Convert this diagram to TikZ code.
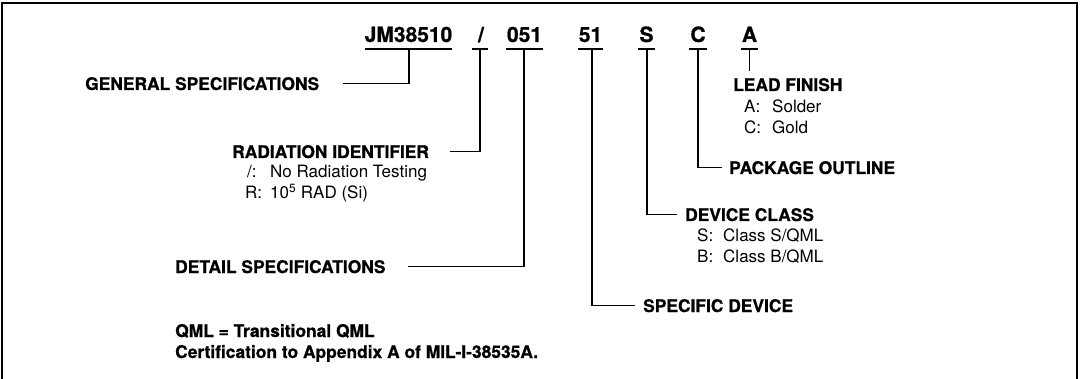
\documentclass[tikz,border=0pt]{standalone}
\usepackage{fontspec}
\setmainfont[BoldFeatures={FakeBold=0.8}]{TeX Gyre Heros}
\begin{document}
\begin{tikzpicture}[x=1pt,y=-1pt,
  hdr/.style={font=\fontsize{21}{21}\selectfont\bfseries, inner sep=0pt, anchor=base},
  lbl/.style={font=\fontsize{17.4}{17.4}\selectfont\bfseries, inner sep=0pt, anchor=base west},
  sub/.style={font=\fontsize{17}{17}\selectfont, inner sep=0pt, anchor=base west},
  wire/.style={line width=1.2pt},
  uline/.style={line width=1.3pt},
  frame/.style={line width=1.6pt}]
\useasboundingbox (0,0) rectangle (1081,379);
% frame (open at the bottom)
\draw[frame] (2,379) -- (2,3) -- (1077,3) -- (1077,379);

% part number fields
\node[hdr] (jm) at (408.5,42) {JM38510};
\node[hdr] (sl) at (481,42) {/};
\node[hdr] (det3) at (524.5,42) {051};
\node[hdr] (dev2) at (590.5,42) {51};
\node[hdr] (cls) at (646.5,42) {S};
\node[hdr] (pkg) at (698,42) {C};
\node[hdr] (fin) at (749.5,42) {A};

% underlines
\coordinate (jmU) at (409,49);
\coordinate (slU) at (480,49);
\coordinate (det3U) at (524,49);
\coordinate (dev2U) at (592,49);
\coordinate (clsU) at (647,49);
\coordinate (pkgU) at (698,49);
\coordinate (finU) at (749.5,49);
\draw[uline] (365,49) -- (452,49);
\draw[uline] (472,49) -- (488,49);
\draw[uline] (506,49) -- (543,49);
\draw[uline] (578,49) -- (603,49);
\draw[uline] (638,49) -- (655,49);
\draw[uline] (689,49) -- (707,49);
\draw[uline] (741,49) -- (758,49);

% labels
\node[lbl] (gen) at (85,90) {GENERAL SPECIFICATIONS};
\node[lbl] (rad) at (232,158) {RADIATION IDENTIFIER};
\node[sub] (rad1) at (247,178) {\makebox[23pt][l]{/:}No Radiation Testing};
\node[sub] (rad2) at (245,199) {\makebox[25pt][l]{R:}10\textsuperscript{5} RAD (Si)};
\node[lbl] (detl) at (175,273) {DETAIL SPECIFICATIONS};
\node[lbl] (lead) at (733,91) {LEAD FINISH};
\node[sub] (lead1) at (744,113) {\makebox[28pt][l]{A:}Solder};
\node[sub] (lead2) at (744,134) {\makebox[28pt][l]{C:}Gold};
\node[lbl] (pkgl) at (729,174) {PACKAGE OUTLINE};
\node[lbl] (devc) at (685,221) {DEVICE CLASS};
\node[sub] (devc1) at (697,242) {\makebox[26pt][l]{S:}Class S/QML};
\node[sub] (devc2) at (697,263) {\makebox[26pt][l]{B:}Class B/QML};
\node[lbl] (spec) at (643,312) {SPECIFIC DEVICE};
\node[lbl] (qml1) at (175,337) {QML = Transitional QML};
\node[lbl] (qml2) at (175,358) {Certification to Appendix A of MIL-I-38535A.};

% connectors
\coordinate (finE) at (749.5,71);
\draw[wire] (jmU) |- ([xshift=24pt]gen.east);
\draw[wire] (slU) |- ([xshift=21pt]rad.east);
\draw[wire] (det3U) |- ([xshift=22pt]detl.east);
\draw[wire] (dev2U) |- ([xshift=-8pt]spec.west);
\draw[wire] (clsU) |- ([xshift=-8pt]devc.west);
\draw[wire] (pkgU) |- ([xshift=-7pt]pkgl.west);
\draw[wire] (finU) -- (finE);
\end{tikzpicture}
\end{document}
